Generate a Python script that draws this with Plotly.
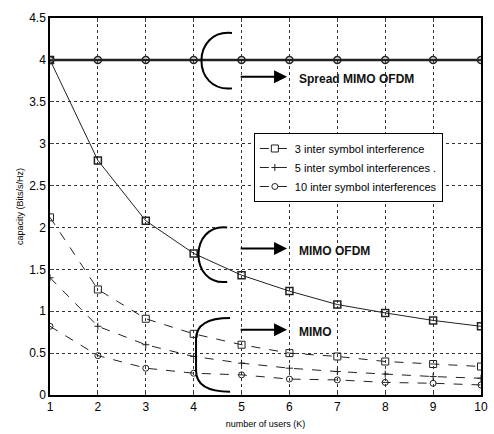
import plotly.graph_objects as go

users = [1, 2, 3, 4, 5, 6, 7, 8, 9, 10]
spread_mimo_ofdm = [4, 4, 4, 4, 4, 4, 4, 4, 4, 4]
mimo_ofdm = [4.0, 2.8, 2.08, 1.69, 1.43, 1.24, 1.08, 0.98, 0.89, 0.82]
isi3 = [2.12, 1.26, 0.91, 0.73, 0.6, 0.5, 0.46, 0.4, 0.37, 0.34]
isi5 = [1.4, 0.82, 0.6, 0.46, 0.38, 0.32, 0.28, 0.25, 0.22, 0.2]
isi10 = [0.82, 0.47, 0.32, 0.26, 0.24, 0.19, 0.18, 0.15, 0.14, 0.12]

legend_names = ["3 inter symbol interference",
                "5 inter symbol interferences .",
                "10 inter symbol interferences"]

ink = "#222222"
fig = go.Figure()
fig.add_trace(go.Scatter(x=users, y=spread_mimo_ofdm, mode="lines+markers",
                         line=dict(color=ink, width=2.5),
                         marker=dict(symbol="circle-open", size=7, color=ink, line=dict(width=1.5)),
                         showlegend=False))
fig.add_trace(go.Scatter(x=users, y=mimo_ofdm, mode="lines+markers",
                         line=dict(color=ink, width=1),
                         marker=dict(symbol="square-open", size=7, color=ink, line=dict(width=1.5)),
                         showlegend=False))
fig.add_trace(go.Scatter(x=users, y=isi3, mode="lines+markers", name=legend_names[0],
                         line=dict(color=ink, width=1, dash="dash"),
                         marker=dict(symbol="square-open", size=7, color=ink, line=dict(width=1))))
fig.add_trace(go.Scatter(x=users, y=isi5, mode="lines+markers", name=legend_names[1],
                         line=dict(color=ink, width=1, dash="dash"),
                         marker=dict(symbol="cross-thin-open", size=5, color=ink, line=dict(width=1, color=ink))))
fig.add_trace(go.Scatter(x=users, y=isi10, mode="lines+markers", name=legend_names[2],
                         line=dict(color=ink, width=1, dash="dash"),
                         marker=dict(symbol="circle-open", size=6, color=ink, line=dict(width=1))))

# brackets
def cbr(xl, xr, yt, yb):
    return f"M {xr},{yt} C {xl},{yt+0.05} {xl},{yb-0.05} {xr},{yb}"

def curly(xl, xr, yt, yb, r):
    return (f"M {xr},{yt} Q {xl},{yt} {xl},{yt-r} L {xl},{yb+r} Q {xl},{yb} {xr},{yb}")

shapes = [
    dict(type="path", path=cbr(3.95, 4.8, 4.32, 3.66), line=dict(color="black", width=2)),
    dict(type="path", path=cbr(3.9, 4.7, 2.0, 1.35), line=dict(color="black", width=2)),
    dict(type="path", path=curly(4.05, 4.76, 0.92, 0.04, 0.25), line=dict(color="black", width=2)),
]

annotations = []
for y, label in [(3.8, "Spread MIMO OFDM"), (1.75, "MIMO OFDM"), (0.78, "MIMO")]:
    annotations.append(dict(x=5.95, y=y, ax=4.95, ay=y, xref="x", yref="y", axref="x", ayref="y",
                            showarrow=True, arrowhead=2, arrowsize=1.3, arrowwidth=2,
                            arrowcolor="black", text=""))
    annotations.append(dict(x=6.15, y=y - 0.03, xref="x", yref="y", text="<b>" + label + "</b>",
                            showarrow=False, xanchor="left",
                            font=dict(size=12, color="#111111", family="Liberation Sans")))

fig.update_layout(
    width=494, height=434,
    margin=dict(l=50, r=6, t=18, b=39),
    plot_bgcolor="white", paper_bgcolor="white",
    font=dict(family="Liberation Sans", size=11, color="black"),
    shapes=shapes, annotations=annotations,
    legend=dict(x=0.473, y=0.695, xanchor="left", yanchor="top",
                bgcolor="white", bordercolor="black", borderwidth=1,
                font=dict(size=11), tracegroupgap=0, itemwidth=30),
    xaxis=dict(range=[1, 10], tickvals=users, showgrid=True, gridcolor="#333333",
               griddash="dot", gridwidth=1, showline=True, linecolor="black", linewidth=1.5,
               mirror="ticks", ticks="inside", ticklen=4, zeroline=False,
               title=dict(text="number of users (K)", font=dict(size=9), standoff=8),
               tickfont=dict(size=12)),
    yaxis=dict(range=[0, 4.5], dtick=0.5, showgrid=True, gridcolor="#333333",
               griddash="dot", gridwidth=1, showline=True, linecolor="black", linewidth=1.5,
               mirror="ticks", ticks="inside", ticklen=4, zeroline=False,
               title=dict(text="capacity (Bits/s/Hz)", font=dict(size=9), standoff=4),
               tickfont=dict(size=12)),
)

fig.write_html("out.html")
